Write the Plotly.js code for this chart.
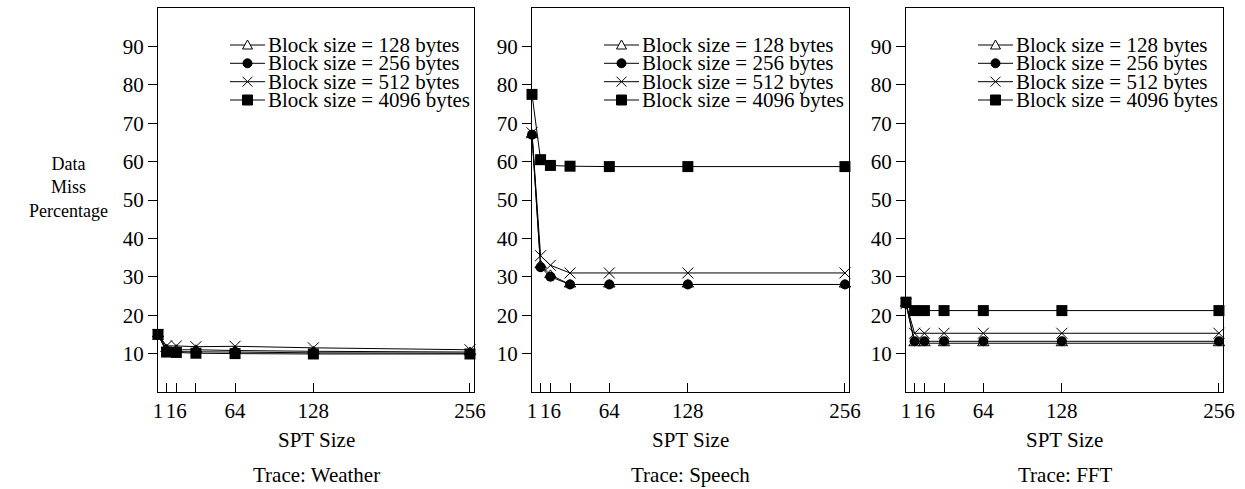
<!DOCTYPE html>
<html>
<head>
<meta charset="utf-8">
<script src="https://cdn.plot.ly/plotly-3.0.1.min.js"></script>
<style>html,body{margin:0;padding:0;background:#fff;}#chart{width:1245px;height:489px;}</style>
</head>
<body>
<div id="chart"></div>
<script>
// ---- data ----
const sptSizes = [1, 8, 16, 32, 64, 128, 256];
const xTickVals = [1, 8, 16, 32, 64, 128, 256];
const xTickText = ["1", "", "16", "", "64", "128", "256"];
const yTickVals = [10, 20, 30, 40, 50, 60, 70, 80, 90];

const seriesNames = ["Block size = 128 bytes", "Block size = 256 bytes", "Block size = 512 bytes", "Block size = 4096 bytes"];
const traceNames = ["Trace: Weather", "Trace: Speech", "Trace: FFT"];

const weather128  = [15.0, 11.2, 11.0, 11.0, 10.8, 10.6, 10.4];
const weather256  = [15.0, 10.6, 10.5, 10.5, 10.4, 10.2, 10.1];
const weather512  = [15.0, 12.0, 12.0, 11.8, 11.9, 11.5, 11.0];
const weather4096 = [15.0, 10.4, 10.3, 10.1, 10.0, 9.9, 9.9];

const speech128  = [67.0, 33.0, 30.5, 28.0, 28.0, 28.0, 28.0];
const speech256  = [67.0, 32.5, 30.0, 28.0, 28.0, 28.0, 28.0];
const speech512  = [67.5, 35.5, 33.0, 31.0, 31.0, 31.0, 31.0];
const speech4096 = [77.5, 60.5, 59.0, 58.8, 58.7, 58.7, 58.7];

const fft128  = [23.0, 12.7, 12.7, 12.7, 12.7, 12.7, 12.7];
const fft256  = [23.0, 13.2, 13.2, 13.2, 13.2, 13.2, 13.2];
const fft512  = [23.0, 15.3, 15.3, 15.3, 15.3, 15.3, 15.3];
const fft4096 = [23.4, 21.2, 21.2, 21.2, 21.2, 21.2, 21.2];

const panels = [
  [weather128, weather256, weather512, weather4096],
  [speech128, speech256, speech512, speech4096],
  [fft128, fft256, fft512, fft4096]
];

// ---- styling ----
const W = 1245, H = 489;
const FONT = "'Liberation Serif', 'Times New Roman', serif";
const panelPx = [[158, 474], [532, 849], [906, 1223]];
const plotTop = 8, plotBottom = 392;
const markerStyles = [
  {symbol: "triangle-up-open", size: 10, color: "#000", line: {width: 1, color: "#000"}},
  {symbol: "circle", size: 10, color: "#000"},
  {symbol: "x-thin-open", size: 11, color: "#000", line: {width: 1, color: "#000"}},
  {symbol: "square", size: 11, color: "#000"}
];

const data = [];
const layout = {
  width: W, height: H,
  margin: {l: 0, r: 0, t: 0, b: 0},
  paper_bgcolor: "#fff", plot_bgcolor: "#fff",
  showlegend: false,
  font: {family: FONT, size: 21, color: "#000"},
  annotations: [], shapes: []
};

panels.forEach((series, p) => {
  const ax = p === 0 ? "" : String(p + 1);
  series.forEach((vals, s) => {
    data.push({
      type: "scatter", mode: "lines+markers",
      x: sptSizes, y: vals, name: seriesNames[s],
      xaxis: "x" + ax, yaxis: "y" + ax,
      line: {color: "#000", width: 1},
      marker: markerStyles[s],
      cliponaxis: false
    });
  });
  const dom = [panelPx[p][0] / W, panelPx[p][1] / W];
  layout["xaxis" + ax] = {
    domain: dom, range: [1, 259.3], anchor: "y" + ax,
    tickmode: "array", tickvals: xTickVals, ticktext: xTickText,
    ticks: "inside", ticklen: 9, tickwidth: 1, tickcolor: "#000",
    showline: true, linecolor: "#000", linewidth: 1, mirror: true,
    showgrid: false, zeroline: false,
    tickfont: {family: FONT, size: 21, color: "#000"}
  };
  layout["yaxis" + ax] = {
    domain: [1 - plotBottom / H, 1 - plotTop / H], range: [0, 100], anchor: "x" + ax,
    tickmode: "array", tickvals: yTickVals,
    ticks: "outside", ticklen: 9, tickwidth: 1, tickcolor: "#000",
    showline: true, linecolor: "#000", linewidth: 1, mirror: true,
    showgrid: false, zeroline: false,
    tickfont: {family: FONT, size: 21, color: "#000"}
  };
  const xd = "x" + ax + " domain", yd = "y" + ax + " domain";
  // axis title and trace caption
  layout.annotations.push({
    text: "SPT Size", xref: xd, x: 0.5, yref: "paper", y: 1 - 440 / H,
    xanchor: "center", yanchor: "middle", showarrow: false,
    font: {family: FONT, size: 21, color: "#000"}
  });
  layout.annotations.push({
    text: traceNames[p], xref: xd, x: 0.5, yref: "paper", y: 1 - 475 / H,
    xanchor: "center", yanchor: "middle", showarrow: false,
    font: {family: FONT, size: 21, color: "#000"}
  });
  // legend (drawn compactly inside each panel)
  const rowY = [37, 55.3, 73.7, 92];
  const lx0 = 72, lx1 = 107, mc = 89.5;
  seriesNames.forEach((nm, s) => {
    const yy = -rowY[s];
    layout.annotations.push({
      text: nm, xref: xd, x: 0, xshift: 108, yref: yd, y: 1, yshift: yy,
      xanchor: "left", yanchor: "middle", showarrow: false,
      font: {family: FONT, size: 21, color: "#000"}
    });
    const base = {xref: xd, yref: yd, xsizemode: "pixel", ysizemode: "pixel", xanchor: 0, yanchor: 1};
    layout.shapes.push(Object.assign({}, base, {type: "line", x0: lx0, x1: lx1, y0: yy, y1: yy, line: {color: "#000", width: 1}}));
    if (s === 0) {
      layout.shapes.push(Object.assign({}, base, {type: "path",
        path: `M ${mc - 5},${yy - 4} L ${mc + 5},${yy - 4} L ${mc},${yy + 5} Z`,
        fillcolor: "#fff", line: {color: "#000", width: 1}}));
    } else if (s === 1) {
      layout.shapes.push(Object.assign({}, base, {type: "circle", x0: mc - 4.5, x1: mc + 4.5, y0: yy - 4.5, y1: yy + 4.5,
        fillcolor: "#000", line: {color: "#000", width: 1}}));
    } else if (s === 2) {
      layout.shapes.push(Object.assign({}, base, {type: "path",
        path: `M ${mc - 5},${yy - 5} L ${mc + 5},${yy + 5} M ${mc - 5},${yy + 5} L ${mc + 5},${yy - 5}`,
        line: {color: "#000", width: 1}}));
    } else {
      layout.shapes.push(Object.assign({}, base, {type: "rect", x0: mc - 5, x1: mc + 5, y0: yy - 5, y1: yy + 5,
        fillcolor: "#000", line: {color: "#000", width: 1}}));
    }
  });
});

// y-axis title (horizontal, three lines)
layout.annotations.push({
  text: "Data<br>Miss<br>Percentage", xref: "paper", x: 68 / W, yref: "paper", y: 1 - 187 / H,
  xanchor: "center", yanchor: "middle", align: "center", showarrow: false,
  font: {family: FONT, size: 18, color: "#000"}
});

Plotly.newPlot("chart", data, layout, {staticPlot: true, displayModeBar: false});
</script>
</body>
</html>
